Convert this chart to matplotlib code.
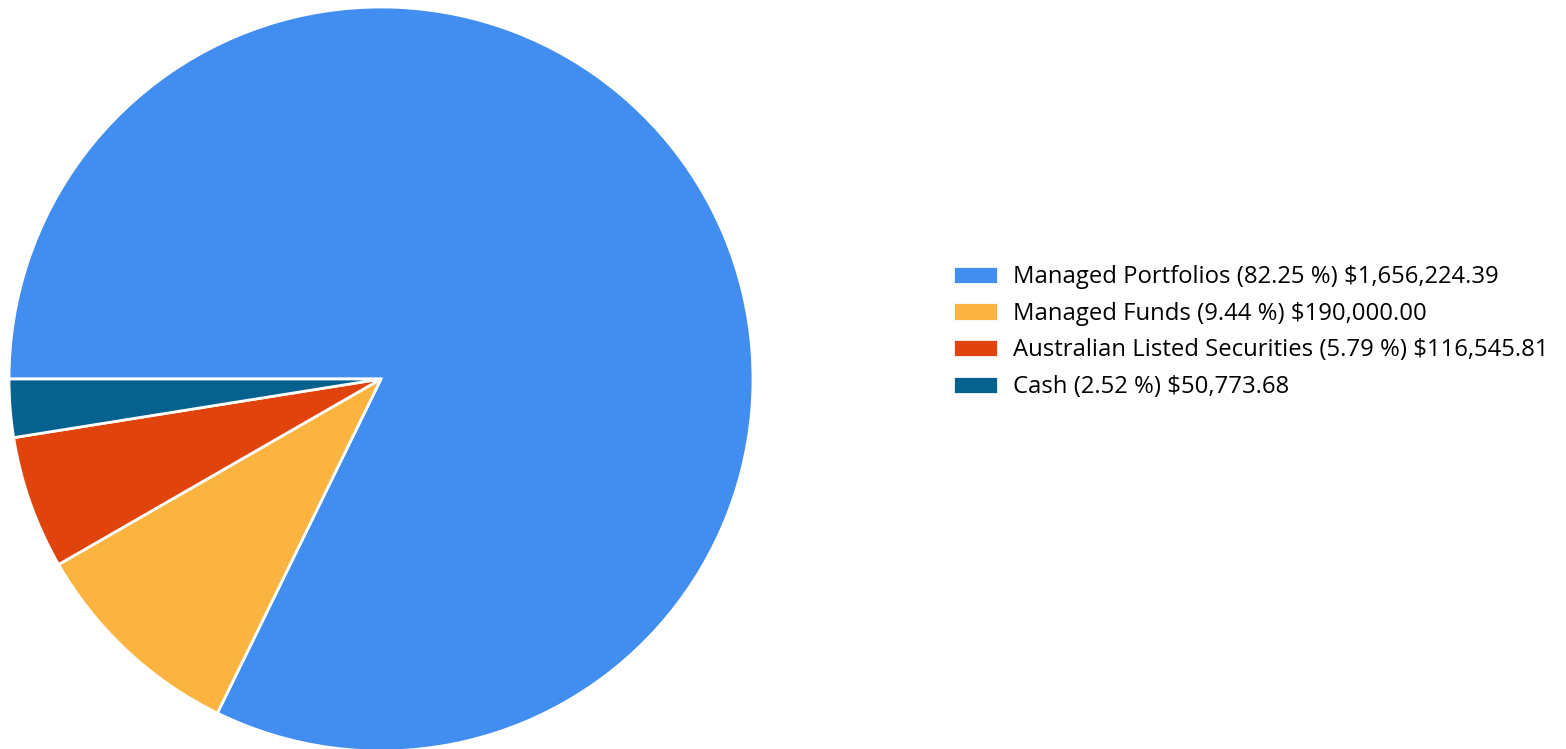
import matplotlib.pyplot as plt

# Portfolio allocation data
labels = ['Managed Portfolios', 'Managed Funds', 'Australian Listed Securities', 'Cash']
percents = [82.25, 9.44, 5.79, 2.52]
amounts = ['$1,656,224.39', '$190,000.00', '$116,545.81', '$50,773.68']
colors = ['#428EF0', '#FBB440', '#E0440C', '#05628F']

W, H = 1566, 749
fig = plt.figure(figsize=(W / 100, H / 100), dpi=100)

# pie centre ~ (381, 379) px, radius ~372 px
cx, cy, r = 381, 379, 372
ax = fig.add_axes([(cx - r) / W, (H - cy - r) / H, 2 * r / W, 2 * r / H])
wedges, _ = ax.pie(percents, colors=colors, startangle=180, counterclock=False,
                   wedgeprops=dict(edgecolor='white', linewidth=2))
ax.set_xlim(-1, 1)
ax.set_ylim(-1, 1)
ax.set_aspect('equal')
ax.axis('off')

legend_labels = [f'{l} ({p:.2f} %) {a}' for l, p, a in zip(labels, percents, amounts)]
fs = 17.2
fig.legend(wedges, legend_labels, loc='center left',
           bbox_to_anchor=(953 / W, 1 - 332 / H), frameon=False,
           prop={'family': 'Open Sans', 'size': fs},
           handlelength=1.9, handleheight=0.8, handletextpad=0.6,
           labelspacing=0.53, borderpad=0, borderaxespad=0)

plt.savefig('out.png', dpi=100)
